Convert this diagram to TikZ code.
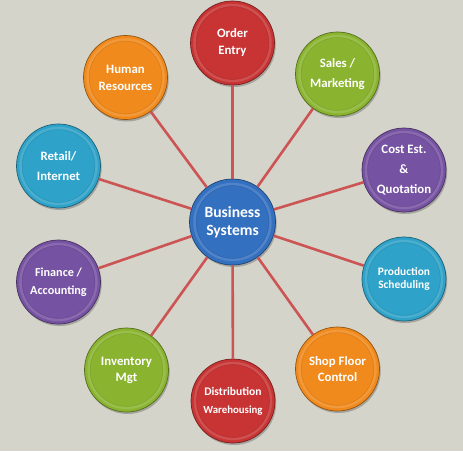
\documentclass[tikz,border=0pt]{standalone}
\usepackage{fontspec}
\setmainfont{Carlito}
\usetikzlibrary{shadows}
\definecolor{bgc}{RGB}{212,212,202}
\definecolor{linkc}{RGB}{204,84,84}
\definecolor{cred}{RGB}{200,52,52}
\definecolor{cgreen}{RGB}{138,180,48}
\definecolor{cpurple}{RGB}{118,82,162}
\definecolor{cteal}{RGB}{46,162,200}
\definecolor{corange}{RGB}{240,138,28}
\definecolor{cblue}{RGB}{52,112,192}
\tikzset{
  bubble/.style={circle, minimum size=#1, inner sep=0pt, line width=0.7pt,
    text=white, align=center,
    drop shadow={shadow xshift=1.2pt, shadow yshift=-2pt, opacity=0.35, fill=black!70}},
  bcol/.style={fill=#1, draw=#1!60!black,
    path picture={
      \draw[#1!60!white, line width=2.4pt, opacity=0.35]
        (path picture bounding box.center) circle (38pt);
      \draw[#1!80!black, line width=0.5pt, opacity=0.45]
        (path picture bounding box.center) circle (36.3pt);
    }},
  link/.style={draw=linkc, line width=2.6pt},
  small/.style={font=\bfseries\fontsize{12.8}{17}\selectfont},
  wide/.style={font=\bfseries\fontsize{12.8}{20}\selectfont}
}
\begin{document}
\begin{tikzpicture}[x=1pt,y=-1pt]
\useasboundingbox (0,0) rectangle (463,451);
\fill[bgc] (0,0) rectangle (463,451);
\node[bubble=86pt, bcol=cblue, font=\bfseries\fontsize{15.6}{18.5}\selectfont] (bs) at (232.5,222) {Business\\Systems};
\node[bubble=84pt, bcol=cred, small] (oe) at (232.5,43) {Order\\Entry};
\node[bubble=84pt, bcol=cgreen, wide] (sm) at (337.5,74) {Sales /\\Marketing};
\node[bubble=84pt, bcol=cpurple, wide] (ce) at (404,170) {Cost Est.\\\&\\Quotation};
\node[bubble=84pt, bcol=cteal, font=\bfseries\fontsize{11.4}{12.8}\selectfont] (ps) at (404,279) {Production\\Scheduling};
\node[bubble=84pt, bcol=corange, font=\bfseries\fontsize{12.8}{16}\selectfont] (sf) at (337.5,369) {Shop Floor\\Control};
\node[bubble=84pt, bcol=cred, font=\bfseries\fontsize{11.6}{18}\selectfont] (dw) at (233,401) {Distribution\\{\fontsize{10.8}{18}\selectfont Warehousing}};
\node[bubble=84pt, bcol=cgreen, font=\bfseries\fontsize{12.8}{16}\selectfont] (im) at (126.5,370) {Inventory\\Mgt};
\node[bubble=84pt, bcol=cpurple, font=\bfseries\fontsize{12.2}{18}\selectfont] (fa) at (58.5,282) {Finance /\\Accounting};
\node[bubble=84pt, bcol=cteal, wide] (ri) at (58.5,166) {Retail/\\Internet};
\node[bubble=84pt, bcol=corange, small] (hr) at (125.5,77.5) {Human\\Resources};
\foreach \n in {oe,sm,ce,ps,sf,dw,im,fa,ri,hr}{
  \draw[link] (bs) -- (\n);
}
\end{tikzpicture}
\end{document}
